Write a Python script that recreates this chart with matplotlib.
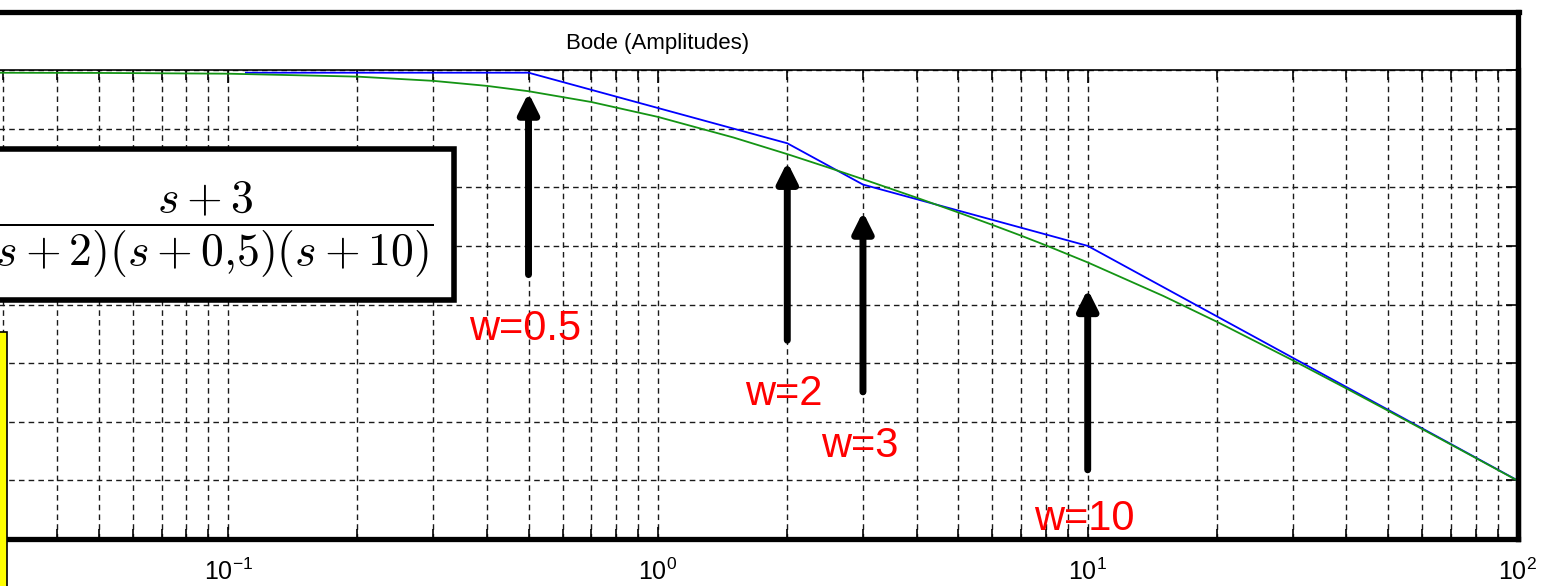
import numpy as np
import matplotlib
matplotlib.use("Agg")
import matplotlib.pyplot as plt
from matplotlib.patches import Rectangle
from matplotlib.lines import Line2D
from matplotlib.ticker import LogLocator, FuncFormatter, NullFormatter

# G(s) = (s+3) / ((s+2)(s+0.5)(s+10)) -- magnitude in dB
w_meas = [0.01, 0.02, 0.03, 0.05, 0.1, 0.2, 0.3, 0.4, 0.5, 0.7, 1.0, 1.5, 2.0,
          2.5, 3.0, 4.0, 5.0, 6.0, 7.0, 8.0, 10.0, 15.0, 20.0, 30.0, 40.0,
          50.0, 70.0, 100.0]
mag_db = [-10.46, -10.46, -10.47, -10.50, -10.63, -11.13, -11.85, -12.71,
          -13.62, -15.46, -18.00, -21.52, -24.35, -26.67, -28.62, -31.78,
          -34.30, -36.42, -38.26, -39.92, -42.82, -48.55, -52.96, -59.52,
          -64.33, -68.12, -73.89, -80.04]

# straight-line approximation, corners at 0.5, 2, 3, 10
asym_w = [0.11, 0.5, 2.0, 3.0, 10.0, 100.0]
asym_db = [-10.46, -10.46, -22.50, -29.54, -40.00, -80.00]

# arrows marking the corner frequencies
arrow_w = [0.5, 2.0, 3.0, 10.0]
arrow_tip_db = [-13.9, -25.7, -34.2, -47.4]
arrow_tail_db = [-44.9, -56.1, -64.9, -78.2]
arrow_labels = ["w=0.5", "w=2", "w=3", "w=10"]

W, H = 1541, 586


def fx(px):
    return px / W


def fy(py):
    return 1 - py / H


def decade_label(v, pos):
    if v < 0.05:
        return ""
    return r"$\mathregular{10^{%d}}$" % round(np.log10(v))


plt.rcParams["font.family"] = ["Liberation Sans", "DejaVu Sans"]

fig = plt.figure(figsize=(W / 100, H / 100), dpi=100)
fig.patch.set_facecolor("white")

left_px, right_px, top_px, bot_px = -201.7, 1517.5, 70, 539
ax = fig.add_axes([fx(left_px), fy(bot_px), (right_px - left_px) / W,
                   (bot_px - top_px) / H])

ax.plot(asym_w, asym_db, color="#0000ff", lw=1.3, zorder=3)
ax.plot(w_meas, mag_db, color="#149414", lw=1.3, zorder=3.1)

ax.set_xscale("log")
ax.set_xlim(0.01, 100)
ax.set_ylim(-90, -10)
ax.set_yticks(np.arange(-90, -9, 10))
ax.xaxis.set_major_locator(LogLocator(base=10))
ax.xaxis.set_minor_locator(LogLocator(base=10, subs=range(2, 10)))
ax.xaxis.set_minor_formatter(NullFormatter())
ax.xaxis.set_major_formatter(FuncFormatter(decade_label))

dash = (0, (4, 3))
ax.grid(True, which="both", axis="x", ls=dash, color="#1a1a1a", lw=1.0)
ax.grid(True, which="major", axis="y", ls=dash, color="#1a1a1a", lw=1.0)
ax.set_axisbelow(True)

ax.tick_params(which="both", direction="in", top=True, right=True,
               width=1.2, color="k", labelleft=False)
ax.tick_params(which="major", length=9, labelsize=18, pad=14)
ax.tick_params(which="minor", length=7)

ax.spines["top"].set_linewidth(1.2)
for side in ("bottom", "right", "left"):
    ax.spines[side].set_linewidth(3.8)

ax.text(0.5, (bot_px - 43) / (bot_px - top_px), "Bode (Amplitudes)",
        transform=ax.transAxes, ha="center", va="center", fontsize=16)

# arrows and their labels
label_db = [-56.1, -67.1, -76.0, -88.5]
for wv, tip, tail, lab, ly in zip(arrow_w, arrow_tip_db, arrow_tail_db,
                                  arrow_labels, label_db):
    ax.annotate("", xy=(wv, tip), xytext=(wv, tail),
                arrowprops=dict(arrowstyle="-|>,head_length=0.6,head_width=0.3",
                                mutation_scale=20, lw=5, color="k",
                                shrinkA=0, shrinkB=0),
                zorder=6)
    ax.annotate(lab, xy=(wv, ly), xytext=(-3, 0), textcoords="offset pixels",
                ha="center", va="baseline", color="red", fontsize=30,
                zorder=7)

# outer frame around the title band
fig.add_artist(Line2D([fx(-10), fx(right_px + 1.5)], [fy(12), fy(12)],
                      lw=3.8, color="k", transform=fig.transFigure,
                      solid_capstyle="projecting"))
fig.add_artist(Line2D([fx(right_px), fx(right_px)], [fy(12), fy(bot_px)],
                      lw=3.8, color="k", transform=fig.transFigure))

# transfer function box
fig.add_artist(Rectangle((fx(-40), fy(300)), fx(454) - fx(-40),
                         fy(149) - fy(300), facecolor="white",
                         edgecolor="k", lw=4, transform=fig.transFigure,
                         zorder=5))
fig.text(fx(206), fy(229), r"$\dfrac{s+3}{(s+2)(s+0{,}5)(s+10)}$",
         math_fontfamily="cm", fontsize=33, ha="center", va="center",
         zorder=6)

# side panels at the left edge
fig.add_artist(Rectangle((fx(-20), fy(600)), fx(7) - fx(-20),
                         fy(332) - fy(600), facecolor="#ffff00",
                         edgecolor="k", lw=1.2, transform=fig.transFigure,
                         zorder=5))
fig.add_artist(Rectangle((fx(-5), fy(226)), fx(4) - fx(-5),
                         fy(176) - fy(226), facecolor="#d6eef5",
                         edgecolor="none", transform=fig.transFigure,
                         zorder=4))

fig.savefig("out.png", dpi=100)
